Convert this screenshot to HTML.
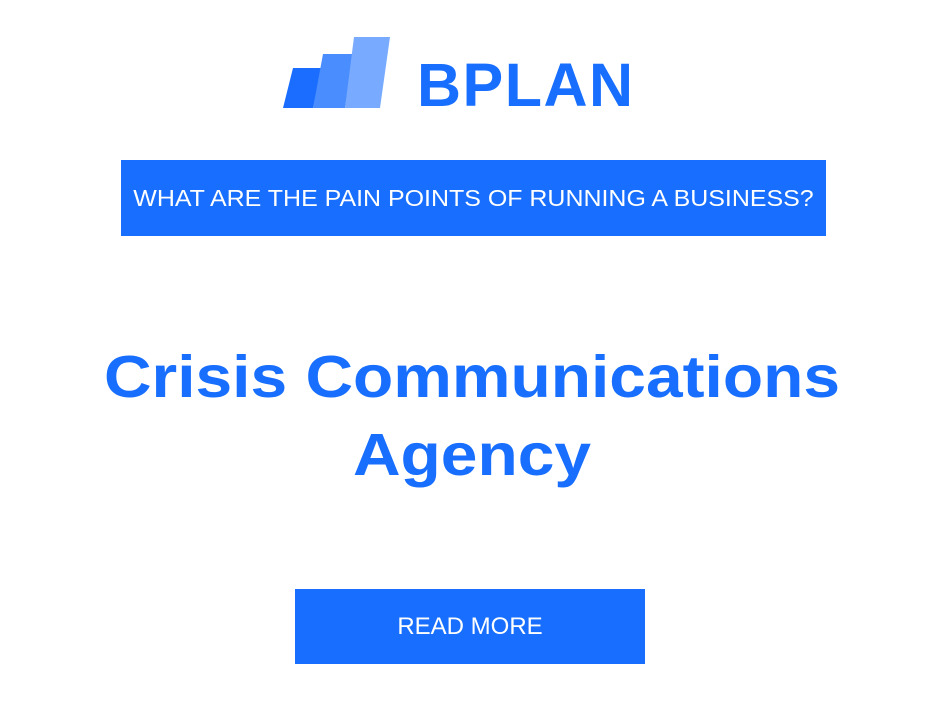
<!DOCTYPE html>
<html><head><style>
body{margin:0;width:944px;height:708px;background:#fff;position:relative;font-family:"Liberation Sans",sans-serif;overflow:hidden}
.a{position:absolute}
</style></head><body>
<svg class="a" style="left:0;top:0" width="944" height="120">
<polygon points="293,68 322,68 313,108 283,108" fill="#1a6dff"/>
<polygon points="323,54 353,54 345,108 313,108" fill="#4a8dff"/>
<polygon points="354,37 390,37 380,108 345,108" fill="#78aaff"/>
</svg>
<div class="a" style="left:417px;top:50px;font-size:61px;font-weight:bold;color:#176eff;line-height:70px;letter-spacing:1.5px">BPLAN</div>
<div class="a" style="left:121px;top:160px;width:705px;height:76px;background:#176eff"></div>
<div class="a" style="left:121px;top:160px;width:705px;height:76px;color:#fff;font-size:23px;line-height:76px;text-align:center;transform:scaleX(1.085)">WHAT ARE THE PAIN POINTS OF RUNNING A BUSINESS?</div>
<div class="a" style="left:0;top:338px;width:944px;text-align:center;font-size:59px;font-weight:bold;color:#176eff;line-height:78px;transform:scaleX(1.117)">Crisis Communications<br>Agency</div>
<div class="a" style="left:295px;top:589px;width:350px;height:75px;background:#176eff;color:#fff;font-size:24px;line-height:76px;text-align:center">READ MORE</div>
</body></html>
